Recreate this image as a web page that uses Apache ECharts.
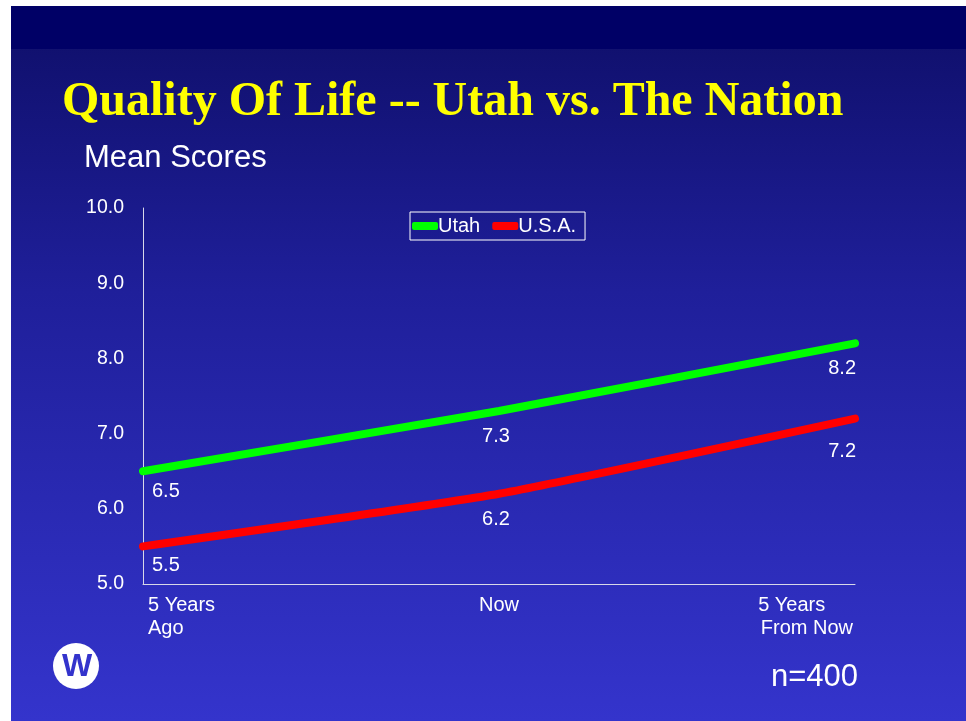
<!DOCTYPE html>
<html>
<head>
<meta charset="utf-8">
<script src="https://cdn.jsdelivr.net/npm/echarts@6/dist/echarts.min.js"></script>
<style>
  html, body { margin: 0; padding: 0; background: #fff; }
  #chartMain { width: 966px; height: 721px; }
</style>
</head>
<body>
<div id="chartMain"></div>
<script>
// categories and values
var categories = ['5 Years\nAgo', 'Now', '5 Years     \nFrom Now'];
var utahValues = [6.5, 7.3, 8.2];
var usaValues = [5.5, 6.2, 7.2];
var yTicks = [5, 6, 7, 8, 9, 10];

var FONT = '"Liberation Sans", Arial, sans-serif';

// label placement per point: first left, middle centred, last right
var labelAligns = ['left', 'center', 'right'];
// small nudges so value labels sit where the slide has them
var utahLabelNudge = [[9, -2], [-3, 3], [1, 3]];
var usaLabelNudge = [[9, -3], [-3, 3], [1, 10]];

function buildSeriesData(values, nudge) {
    return values.map(function (v, i) {
        return {
            value: v,
            label: { align: labelAligns[i], offset: nudge[i] }
        };
    });
}

var xData = categories.map(function (c, i) {
    var pad = 0;
    if (i === 0) pad = [0, 0, 0, 5];
    if (i === 2) pad = [0, 2, 0, 0];
    return {
        value: c,
        textStyle: { align: labelAligns[i], padding: pad }
    };
});

function lineSeries(name, color, values, nudge) {
    return {
        name: name,
        type: 'line',
        smooth: 0.15,
        symbol: 'circle',
        symbolSize: 1,   // hidden inside the line, only there to carry the labels
        showSymbol: true,
        color: color,
        lineStyle: { width: 8, color: color, cap: 'round' },
        data: buildSeriesData(values, nudge),
        label: {
            show: true, position: 'bottom', distance: 12,
            color: '#ffffff', fontSize: 20, fontFamily: FONT,
            formatter: function (p) { return p.value.toFixed(1); }
        }
    };
}

var option = {
    backgroundColor: '#ffffff',
    animation: false,
    graphic: [
        // slide background
        {
            type: 'rect', left: 11, top: 6, z: -10,
            shape: { width: 955, height: 715 },
            style: {
                fill: {
                    type: 'linear', x: 0, y: 0, x2: 0, y2: 1,
                    colorStops: [
                        { offset: 0, color: '#0e0e68' },
                        { offset: 0.4, color: '#1f1f9a' },
                        { offset: 1, color: '#3434cc' }
                    ]
                }
            }
        },
        {
            type: 'rect', left: 11, top: 6, z: -9,
            shape: { width: 955, height: 43 },
            style: { fill: '#000066' }
        },
        {
            type: 'text', x: 62, y: 103,
            style: {
                text: 'Quality Of Life -- Utah vs. The Nation',
                font: 'bold 48px "Liberation Serif", "Times New Roman", serif',
                fill: '#ffff00',
                verticalAlign: 'middle'
            }
        },
        {
            type: 'text', x: 84, y: 158,
            style: {
                text: 'Mean Scores',
                font: '31px ' + FONT,
                fill: '#ffffff',
                verticalAlign: 'middle'
            }
        },
        {
            type: 'text', x: 771, y: 677,
            style: {
                text: 'n=400',
                font: '31px ' + FONT,
                fill: '#ffffff',
                verticalAlign: 'middle'
            }
        },
        // logo
        {
            type: 'circle', z: 5,
            shape: { cx: 76, cy: 666, r: 23 },
            style: { fill: '#ffffff' }
        },
        {
            type: 'text', z: 6, x: 77, y: 667,
            style: {
                text: 'W',
                font: 'bold 32px "Liberation Sans", Arial, sans-serif',
                fill: '#3333cc',
                align: 'center',
                verticalAlign: 'middle'
            }
        }
    ],
    legend: {
        left: 410, top: 212,
        padding: [4, 9, 4, 2],
        borderColor: '#ffffff',
        borderWidth: 1,
        itemWidth: 26,
        itemHeight: 8,
        itemGap: 12,
        icon: 'roundRect',
        textStyle: { color: '#ffffff', fontSize: 20, fontFamily: FONT, padding: [0, 0, 0, -5] },
        data: ['Utah', 'U.S.A.']
    },
    grid: { left: 143, right: 111, top: 208, bottom: 137 },
    xAxis: {
        type: 'category',
        boundaryGap: false,
        data: xData,
        axisLine: { lineStyle: { color: '#d8d8e8', width: 1 } },
        axisTick: { show: false },
        axisLabel: {
            color: '#ffffff', fontSize: 20, fontFamily: FONT,
            margin: 10, lineHeight: 23
        }
    },
    yAxis: {
        type: 'value',
        min: yTicks[0],
        max: yTicks[yTicks.length - 1],
        interval: 1,
        splitLine: { show: false },
        axisLine: { show: true, lineStyle: { color: '#d8d8e8', width: 1 } },
        axisTick: { show: false },
        axisLabel: {
            color: '#ffffff', fontSize: 19.5, fontFamily: FONT, margin: 19,
            formatter: function (v) { return v.toFixed(1); }
        }
    },
    series: [
        lineSeries('Utah', '#00ff00', utahValues, utahLabelNudge),
        lineSeries('U.S.A.', '#ff0000', usaValues, usaLabelNudge)
    ]
};

var mychart = echarts.init(document.getElementById('chartMain'));
mychart.setOption(option);
</script>
</body>
</html>
